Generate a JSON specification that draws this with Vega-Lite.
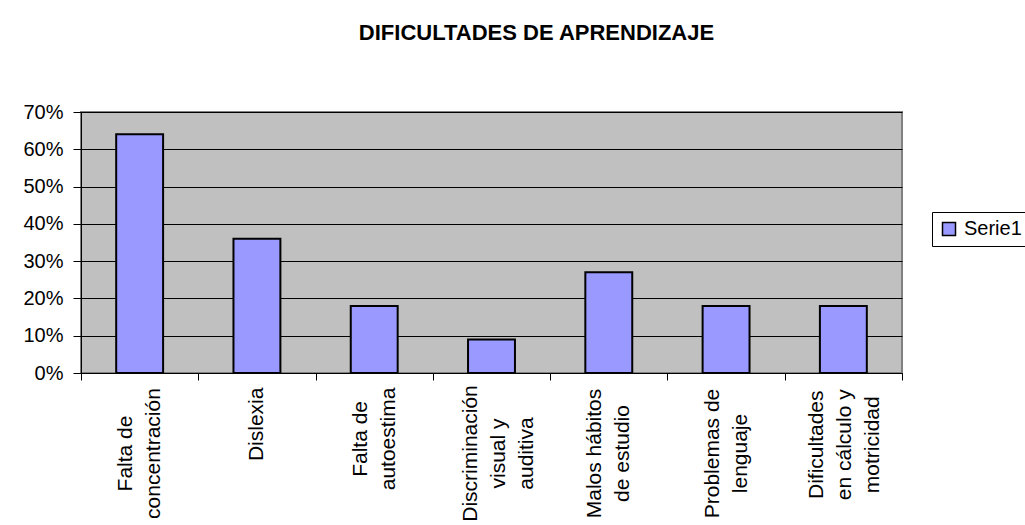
{
  "$schema": "https://vega.github.io/schema/vega-lite/v6.json",
  "width": 821,
  "height": 261,
  "autosize": {"type": "none"},
  "padding": {"left": 81, "top": 112, "right": 123, "bottom": 152},
  "background": "white",
  "title": {
    "text": "DIFICULTADES DE APRENDIZAJE",
    "font": "Liberation Sans",
    "fontSize": 22,
    "fontWeight": "bold",
    "color": "black",
    "anchor": "middle",
    "dx": 45,
    "offset": 57
  },
  "config": {
    "view": {"fill": "#C0C0C0", "stroke": "#808080", "strokeWidth": 2},
    "font": "Liberation Sans"
  },
  "data": {
    "values": [
      {"categoria": "Falta de|concentración", "valor": 0.64, "serie": "Serie1"},
      {"categoria": "Dislexia", "valor": 0.36, "serie": "Serie1"},
      {"categoria": "Falta de|autoestima", "valor": 0.18, "serie": "Serie1"},
      {"categoria": "Discriminación|visual y|auditiva", "valor": 0.09, "serie": "Serie1"},
      {"categoria": "Malos hábitos|de estudio", "valor": 0.27, "serie": "Serie1"},
      {"categoria": "Problemas de|lenguaje", "valor": 0.18, "serie": "Serie1"},
      {"categoria": "Dificultades|en cálculo y|motricidad", "valor": 0.18, "serie": "Serie1"}
    ]
  },
  "mark": {"type": "bar", "stroke": "black", "strokeWidth": 2, "width": {"band": 0.4}},
  "encoding": {
    "x": {
      "field": "categoria",
      "type": "nominal",
      "sort": null,
      "scale": {"paddingInner": 0, "paddingOuter": 0},
      "axis": {
        "title": null,
        "labelExpr": "datum.label == 'Dislexia' ? '\u200b\u00a0\u00a0\u00a0\u00a0\u00a0\u00a0\u00a0\u00a0\u00a0\u00a0Dislexia' : datum.label == 'Falta de|autoestima' ? ['\u200b\u00a0\u00a0\u00a0\u00a0\u00a0Falta de', '\u200b\u00a0\u00a0\u00a0\u00a0\u00a0autoestima'] : datum.label == 'Dificultades|en cálculo y|motricidad' ? ['\u200b\u00a0\u00a0\u00a0Dificultades', '\u200b\u00a0\u00a0\u00a0en cálculo y', '\u200b\u00a0\u00a0\u00a0motricidad'] : split(datum.label, '|')",
        "labelAngle": -90,
        "labelAlign": "center",
        "labelBaseline": "middle",
        "labelLineHeight": 28,
        "labelFontSize": 21,
        "labelFont": "Liberation Sans",
        "labelColor": "black",
        "labelPadding": 73,
        "labelLimit": 0,
        "labelOffset": {
          "condition": [
            {"test": "indexof(datum.label, 'Discrimin') == 0", "value": -21},
            {"test": "length(split(datum.label, '|')) == 3", "value": -27},
            {"test": "length(split(datum.label, '|')) == 2", "value": -14}
          ],
          "value": 0
        },
        "tickBand": "extent",
        "tickSize": 7,
        "tickColor": "black",
        "domainColor": "black",
        "domainWidth": 1,
        "grid": false
      }
    },
    "y": {
      "field": "valor",
      "type": "quantitative",
      "scale": {"domain": [0, 0.7], "nice": false},
      "axis": {
        "title": null,
        "format": ".0%",
        "values": [0, 0.1, 0.2, 0.3, 0.4, 0.5, 0.6, 0.7],
        "labelFontSize": 20,
        "labelFont": "Liberation Sans",
        "labelColor": "black",
        "labelPadding": 10,
        "tickSize": 8,
        "tickColor": "black",
        "domainColor": "black",
        "grid": true,
        "gridColor": "black",
        "gridOpacity": 1,
        "gridWidth": 1
      }
    },
    "color": {
      "field": "serie",
      "type": "nominal",
      "scale": {"range": ["#9999FF"]},
      "legend": {
        "title": null,
        "orient": "none",
        "legendX": 851,
        "legendY": 100,
        "strokeColor": "black",
        "padding": 7,
        "symbolType": "square",
        "symbolSize": 169,
        "symbolStrokeColor": "black",
        "symbolStrokeWidth": 1.5,
        "symbolOpacity": 1,
        "labelFontSize": 20,
        "labelFont": "Liberation Sans",
        "labelColor": "black",
        "labelOffset": 5
      }
    }
  }
}
